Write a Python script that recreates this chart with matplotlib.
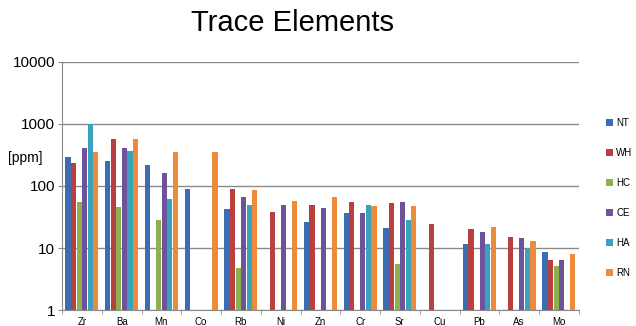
import numpy as np
import matplotlib.pyplot as plt
from matplotlib.patches import Patch

plt.rcParams['font.family'] = ['Liberation Sans', 'DejaVu Sans']

elements = ['Zr', 'Ba', 'Mn', 'Co', 'Rb', 'Ni', 'Zn', 'Cr', 'Sr', 'Cu', 'Pb', 'As', 'Mo']
series = ['NT', 'WH', 'HC', 'CE', 'HA', 'RN']
colors = ['#3c6db3', '#b8403e', '#8db14c', '#6e529b', '#3aa2bd', '#ec8b3b']

nan = np.nan
NT = [297, 252, 220, 90, 42, nan, 26, 37, 21, nan, 11.6, nan, 8.5]
WH = [235, 565, nan, nan, 90, 38, 50, 55, 53, 24, 20, 15, 6.5]
HC = [55, 45, 28, nan, 4.7, nan, nan, nan, 5.5, nan, nan, nan, 5.1]
CE = [415, 415, 160, nan, 66, 49, 44, 37, 55, nan, 18, 14.5, 6.5]
HA = [1000, 372, 61, nan, 50, nan, nan, 50, 28, nan, 11.6, 9.9, nan]
RN = [355, 565, 355, 355, 86, 58, 66, 48, 48, nan, 22, 12.8, 8.1]
values = [NT, WH, HC, CE, HA, RN]

fig = plt.figure(figsize=(6.36, 3.26), dpi=100)
ax = fig.add_axes([0.0975, 0.049, 0.8125, 0.761])

x = np.arange(len(elements))
w = 0.14
for i, (name, vals) in enumerate(zip(series, values)):
    ax.bar(x + (i - 2.5) * w, vals, width=w * 0.92, color=colors[i], zorder=3)

ax.set_yscale('log')
ax.set_ylim(1, 10000)
ax.set_xlim(-0.5, len(elements) - 0.5)
ax.set_yticks([1, 10, 100, 1000, 10000])
ax.set_yticklabels(['1', '10', '100', '1000', '10000'], fontsize=11)
ax.minorticks_off()
ax.yaxis.grid(True, color='#8a8a8a', linewidth=1.0, zorder=0)

ax.set_xticks(x)
ax.set_xticklabels(elements, fontsize=7)
ax.set_xticks(np.arange(len(elements) + 1) - 0.5, minor=True)
ax.tick_params(axis='x', which='major', length=0, pad=5)
ax.tick_params(axis='x', which='minor', length=3, color='#8a8a8a')
ax.tick_params(axis='y', length=3, color='#8a8a8a', pad=2)

for s in ['top', 'right']:
    ax.spines[s].set_visible(False)
for s in ['left', 'bottom']:
    ax.spines[s].set_color('#8a8a8a')

fig.text(0.013, 0.515, '[ppm]', fontsize=10, va='center', ha='left')
fig.text(0.46, 0.93, 'Trace Elements', fontsize=21, ha='center', va='center')

handles = [Patch(facecolor=c) for c in colors]
fig.legend(handles, series, loc='center left', bbox_to_anchor=(0.946, 0.393),
           frameon=False, fontsize=7, handlelength=0.8, handleheight=0.8,
           handletextpad=0.3, labelspacing=2.05, borderaxespad=0)

fig.savefig('out.png', dpi=100)
